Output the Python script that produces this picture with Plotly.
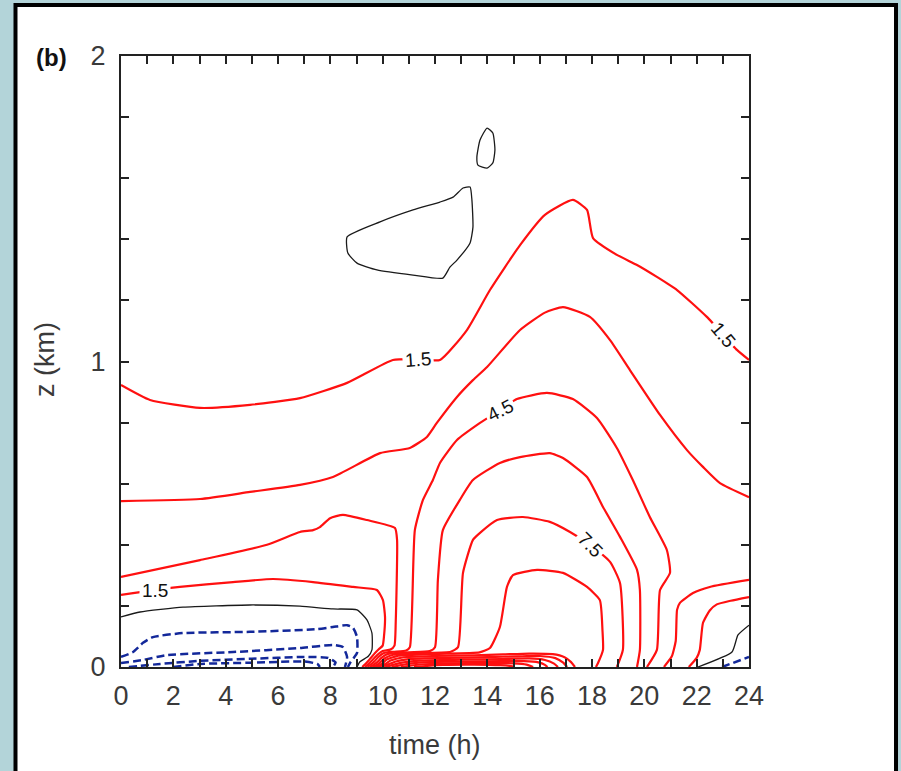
import plotly.graph_objects as go

# ---------------------------------------------------------------
# Contour lines of the diurnal field, interval 1.5 (time in h, height in km)
# ---------------------------------------------------------------

# 1.5 line, upper (residual layer top)
c15_top_t = [0, 1.11, 3.02, 4.93, 6.84, 8.64, 10.39, 11.3, 12.19, 13.22, 14.10, 15.25, 16.20,
             17.27, 17.81, 18.04, 18.95, 19.72, 20.48, 21.25, 22.39, 23.54, 24]
c15_top_z = [0.923, 0.874, 0.848, 0.858, 0.880, 0.930, 1.005, 1.008, 1.005, 1.103, 1.234, 1.381, 1.480,
             1.529, 1.496, 1.404, 1.349, 1.316, 1.277, 1.234, 1.146, 1.038, 1.005]

# 3.0 line, upper
c30_top_t = [0, 3.02, 4.93, 6.84, 8.10, 9.90, 11.04, 11.69, 12.07, 12.84, 13.45, 13.99, 15.25, 16.20,
             16.89, 17.92, 18.69, 19.45, 20.60, 21.63, 22.24, 22.89, 24]
c30_top_z = [0.543, 0.550, 0.573, 0.596, 0.622, 0.700, 0.717, 0.753, 0.799, 0.884, 0.939, 0.982, 1.103, 1.160,
             1.178, 1.146, 1.070, 0.972, 0.825, 0.710, 0.655, 0.602, 0.556]

# 1.5 line, night layer (labelled near t = 1)
c15_low_t = [0, 0.46, 2.25, 4.28, 5.81, 7.34, 8.87, 9.78, 10.01, 10.09, 10.05, 10.0, 9.85, 9.7, 9.5, 9.32, 9.22]
c15_low_z = [0.236, 0.242, 0.262, 0.278, 0.288, 0.278, 0.262, 0.252, 0.219, 0.164, 0.100, 0.070, 0.058, 0.045,
             0.025, 0.008, 0.0]

# 3.0 line, night layer
c30_low_t = [0, 3.02, 5.58, 6.84, 7.34, 7.60, 7.99, 8.48, 9.40, 10.47, 10.55, 10.50, 10.45, 10.3, 10.0, 9.8,
             9.6, 9.42, 9.32]
c30_low_z = [0.295, 0.350, 0.400, 0.442, 0.448, 0.458, 0.487, 0.498, 0.481, 0.455, 0.416, 0.150, 0.070, 0.057,
             0.052, 0.040, 0.022, 0.007, 0.0]

# 4.5 line
c45_t = [9.42, 9.5, 9.68, 9.85, 10.05, 10.4, 10.9, 11.04, 11.23, 11.54, 11.92, 12.19, 12.84, 13.72, 14.48, 15.13,
         16.28, 17.27, 18.19, 18.95, 19.56, 20.21, 20.86, 20.98, 20.60, 20.48, 20.10]
c45_z = [0.0, 0.005, 0.018, 0.034, 0.046, 0.050, 0.054, 0.065, 0.448, 0.547, 0.612, 0.668, 0.743, 0.799, 0.841,
         0.877, 0.897, 0.877, 0.815, 0.717, 0.612, 0.491, 0.383, 0.308, 0.252, 0.056, 0.0]

# 6.0 line
c60_t = [9.52, 9.6, 9.78, 9.95, 10.2, 11.0, 11.8, 12.0, 12.11, 12.30, 12.95, 13.45, 14.48, 15.25, 16.39, 16.89,
         17.81, 18.42, 19.07, 19.72, 19.83, 19.83, 19.72]
c60_z = [0.0, 0.004, 0.015, 0.030, 0.043, 0.048, 0.052, 0.065, 0.285, 0.448, 0.547, 0.612, 0.668, 0.687, 0.700,
         0.684, 0.622, 0.524, 0.426, 0.318, 0.252, 0.056, 0.0]

# 7.5 line
c75_t = [9.62, 9.7, 9.88, 10.05, 10.4, 11.5, 12.6, 12.88, 13.07, 13.45, 13.72, 14.37, 15.36, 16.39, 17.16,
         17.92, 18.69, 19.07, 19.18, 18.95]
c75_z = [0.0, 0.003, 0.013, 0.027, 0.040, 0.046, 0.050, 0.065, 0.308, 0.416, 0.439, 0.481, 0.491, 0.475, 0.442,
         0.400, 0.344, 0.275, 0.056, 0.0]

# 9.0 line
c90_t = [9.72, 9.8, 9.98, 10.15, 10.6, 12.0, 13.7, 14.10, 14.48, 14.75, 14.98, 15.90, 16.89, 17.81, 18.30,
         18.40, 18.42, 18.23, 18.15]
c90_z = [0.0, 0.002, 0.011, 0.024, 0.037, 0.043, 0.048, 0.062, 0.131, 0.262, 0.301, 0.318, 0.308, 0.262, 0.219,
         0.120, 0.056, 0.013, 0.0]

# surface-layer lines during daytime heating
c105_t = [9.82, 9.9, 10.1, 10.3, 10.8, 12.0, 13.5, 14.6, 15.6, 16.5, 16.95, 17.2, 17.35]
c105_z = [0.0, 0.003, 0.010, 0.021, 0.032, 0.036, 0.038, 0.041, 0.044, 0.042, 0.032, 0.016, 0.0]
c120_t = [9.95, 10.2, 10.5, 11.0, 12.5, 14.0, 15.2, 16.0, 16.6, 16.9, 17.05]
c120_z = [0.0, 0.008, 0.018, 0.026, 0.030, 0.032, 0.035, 0.036, 0.029, 0.014, 0.0]
c135_t = [10.1, 10.4, 10.8, 11.4, 13.0, 14.5, 15.6, 16.2, 16.55, 16.7]
c135_z = [0.0, 0.007, 0.015, 0.021, 0.024, 0.026, 0.028, 0.023, 0.011, 0.0]
c150_t = [10.35, 10.7, 11.1, 11.8, 13.0, 14.5, 15.4, 15.95, 16.2, 16.3]
c150_z = [0.0, 0.006, 0.012, 0.016, 0.018, 0.019, 0.019, 0.015, 0.007, 0.0]
c165_t = [10.7, 11.1, 11.6, 12.5, 14.0, 15.0, 15.5, 15.75]
c165_z = [0.0, 0.005, 0.009, 0.012, 0.013, 0.012, 0.008, 0.0]
c180_t = [11.2, 11.7, 12.3, 13.5, 14.5, 14.9, 15.05]
c180_z = [0.0, 0.004, 0.007, 0.008, 0.006, 0.003, 0.0]

# evening lines on the right
c30_eve_t = [20.75, 21.05, 21.2, 21.25, 21.36, 21.86, 22.5, 24]
c30_eve_z = [0.0, 0.035, 0.085, 0.187, 0.210, 0.242, 0.262, 0.285]
c15_eve_t = [21.7, 22.0, 22.12, 22.24, 22.5, 22.77, 23.3, 24]
c15_eve_z = [0.0, 0.030, 0.056, 0.144, 0.185, 0.205, 0.217, 0.229]

# zero lines
c00_night_t = [0, 0.73, 2.37, 4.93, 6.84, 8.10, 9.02, 9.40, 9.59, 9.59, 9.45, 9.13, 9.02]
c00_night_z = [0.164, 0.180, 0.196, 0.203, 0.199, 0.190, 0.187, 0.154, 0.111, 0.056, 0.035, 0.017, 0.0]
c00_eve_t = [22.05, 23.35, 23.58, 24]
c00_eve_z = [0.0, 0.049, 0.105, 0.137]
c00_cell_t = [8.64, 8.67, 9.02, 9.78, 11.16, 12.30, 12.57, 12.84, 13.34, 13.45, 13.41, 13.34, 13.07, 12.69,
              12.19, 11.16, 9.90, 8.64]
c00_cell_z = [1.408, 1.355, 1.322, 1.300, 1.283, 1.273, 1.309, 1.332, 1.388, 1.440, 1.529, 1.571, 1.568, 1.538,
              1.522, 1.496, 1.457, 1.408]
c00_blob_t = [13.99, 14.21, 14.29, 14.21, 13.99, 13.64, 13.60, 13.72, 13.99]
c00_blob_z = [1.764, 1.748, 1.692, 1.650, 1.633, 1.643, 1.669, 1.725, 1.764]

# negative lines (stable night layer)
cm15_t = [0, 0.46, 0.84, 1.22, 2.37, 4.93, 7.49, 8.10, 8.64, 8.87, 9.02, 9.02, 8.75, 8.67]
cm15_z = [0.033, 0.049, 0.079, 0.098, 0.111, 0.115, 0.124, 0.131, 0.137, 0.128, 0.098, 0.046, 0.013, 0.0]
cm30_t = [0, 0.84, 1.76, 4.28, 6.84, 8.10, 8.48, 8.64, 8.56]
cm30_z = [0.013, 0.023, 0.039, 0.049, 0.062, 0.072, 0.065, 0.033, 0.0]
cm45_t = [0.3, 1.5, 3.0, 5.0, 7.0, 7.9, 8.2, 8.1]
cm45_z = [0.0, 0.010, 0.020, 0.027, 0.033, 0.030, 0.015, 0.0]
cm60_t = [2.0, 3.0, 5.0, 7.0, 7.5, 7.6]
cm60_z = [0.0, 0.010, 0.014, 0.018, 0.010, 0.0]
cm15_eve_t = [22.97, 24]
cm15_eve_z = [0.0, 0.033]

contours = [
    (1.5, c15_top_t, c15_top_z), (3.0, c30_top_t, c30_top_z),
    (1.5, c15_low_t, c15_low_z), (3.0, c30_low_t, c30_low_z),
    (4.5, c45_t, c45_z), (6.0, c60_t, c60_z), (7.5, c75_t, c75_z), (9.0, c90_t, c90_z),
    (10.5, c105_t, c105_z), (12.0, c120_t, c120_z), (13.5, c135_t, c135_z),
    (15.0, c150_t, c150_z), (16.5, c165_t, c165_z), (18.0, c180_t, c180_z),
    (3.0, c30_eve_t, c30_eve_z), (1.5, c15_eve_t, c15_eve_z),
    (0.0, c00_night_t, c00_night_z), (0.0, c00_eve_t, c00_eve_z),
    (0.0, c00_cell_t, c00_cell_z), (0.0, c00_blob_t, c00_blob_z),
    (-1.5, cm15_t, cm15_z), (-3.0, cm30_t, cm30_z), (-4.5, cm45_t, cm45_z), (-6.0, cm60_t, cm60_z),
    (-1.5, cm15_eve_t, cm15_eve_z),
]

# in-line contour labels: (line level, time, height, rotation)
label_level = [1.5, 1.5, 1.5, 4.5, 7.5]
label_t = [11.35, 1.3, 23.0, 14.48, 17.92]
label_z = [1.008, 0.250, 1.088, 0.841, 0.400]
label_angle = [-4, 0, 50, -27, 45]

x_tick_vals = list(range(0, 25))
x_tick_text = [str(v) if v % 2 == 0 else "" for v in x_tick_vals]
y_tick_vals = [i / 5 for i in range(0, 11)]
y_tick_text = ["0", "", "", "", "", "1", "", "", "", "", "2"]

fig = go.Figure()

for level, ts, zs in contours:
    if level > 0:
        line = dict(color="#ff1010", width=2.2)
    elif level == 0:
        line = dict(color="#1a1a1a", width=1.3)
    else:
        line = dict(color="#13289a", width=2.5, dash="8px,4px")
    line.update(shape="spline", smoothing=0.5)
    fig.add_trace(go.Scatter(x=ts, y=zs, mode="lines", line=line,
                             hoverinfo="skip", showlegend=False))

for lev, t, z, ang in zip(label_level, label_t, label_z, label_angle):
    fig.add_annotation(x=t, y=z, xref="x", yref="y", text=f"{lev:.1f}", showarrow=False,
                       textangle=ang, bgcolor="white", borderpad=2,
                       font=dict(family="Liberation Sans, Arial, sans-serif", size=19, color="#111"))

font_axis = dict(family="Liberation Sans, Arial, sans-serif", size=27, color="#3a3a3a")

fig.update_xaxes(range=[0, 24], tickmode="array", tickvals=x_tick_vals, ticktext=x_tick_text,
                 ticks="inside", ticklen=8, tickwidth=1.7, tickcolor="#222",
                 showline=True, linecolor="#222", linewidth=2, mirror="ticks",
                 showgrid=False, zeroline=False, tickfont=font_axis, ticklabelstandoff=4)
fig.update_yaxes(range=[0, 2], tickmode="array", tickvals=y_tick_vals, ticktext=y_tick_text,
                 ticks="inside", ticklen=8, tickwidth=1.7, tickcolor="#222",
                 showline=True, linecolor="#222", linewidth=2, mirror="ticks",
                 showgrid=False, zeroline=False, tickfont=font_axis, ticklabelstandoff=8)

# page frame: tinted surround with a bordered white panel
fig.add_shape(type="rect", xref="paper", yref="paper", x0=-0.1680, x1=1.2341, y0=-0.25, y1=1.0835,
              line=dict(color="black", width=4), fillcolor="white", layer="below")

fig.add_annotation(x=0.5, y=-0.128, xref="paper", yref="paper", text="time (h)", showarrow=False,
                   font=font_axis, xanchor="center", yanchor="middle")
fig.add_annotation(x=-0.121, y=0.5025, xref="paper", yref="paper", text="z (km)", showarrow=False,
                   textangle=-90, font=font_axis, xanchor="center", yanchor="middle")
fig.add_annotation(x=-0.110, y=0.998, xref="paper", yref="paper", text="<b>(b)</b>", showarrow=False,
                   font=dict(family="Liberation Sans, Arial, sans-serif", size=24, color="#111"),
                   xanchor="center", yanchor="middle")

fig.update_layout(width=901, height=771, autosize=False,
                  margin=dict(l=121, r=152, t=56, b=104, pad=0),
                  paper_bgcolor="#b3d4d9", plot_bgcolor="white",
                  hovermode=False)

fig.write_html("out.html")
